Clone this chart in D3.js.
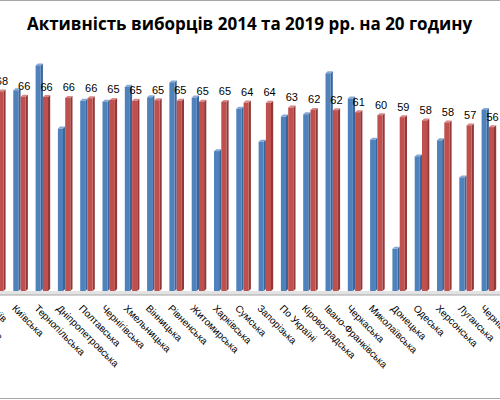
<!DOCTYPE html>
<html>
<head>
<meta charset="utf-8">
<script src="https://cdn.jsdelivr.net/npm/d3@7"></script>
<style>
  body { margin: 0; background: #fff; }
  svg { display: block; font-family: "Liberation Sans", Arial, sans-serif; }
</style>
</head>
<body>
<div id="chart-area"></div>
<script>
// Області (крайня ліва частково за краєм картинки)
var oblasti = ["Львівська", "Київ", "Київська", "Тернопільська", "Дніпропетровська",
    "Полтавська", "Чернігівська", "Хмельницька", "Вінницька", "Рівненська",
    "Житомирська", "Харківська", "Сумська", "Запорізька", "По Україні",
    "Кіровоградська", "Івано-Франківська", "Черкаська", "Миколаївська",
    "Донецька", "Одеська", "Херсонська", "Луганська", "Чернівецька"];

// Явка на 20 годину, %
var yavka2014 = [77, 62, 68.6, 77.1, 55.5, 65.0, 64.7, 69.8, 66.2, 71.3,
    66.1, 47.8, 62.3, 51.0, 59.6, 60.4, 74.4, 65.8, 51.7, 14.4, 46.0, 51.5, 38.8, 61.9];
var yavka2019 = [69, 68.2, 66.4, 66.3, 66.0, 65.9, 65.3, 65.0, 65.2, 65.0,
    64.7, 64.6, 64.4, 64.3, 62.7, 61.9, 61.8, 61.1, 60.1, 59.4, 58.3, 57.6, 56.6, 56.0];

var seriesKeys = ["y2014", "y2019"];

var width = 500, height = 400;
var baseY = 291;

var dani = oblasti.map(function(o, i) {
    return { oblast: o, y2014: yavka2014[i], y2019: yavka2019[i] };
});

var svg = d3.select("#chart-area")
    .append("svg")
        .attr("width", width)
        .attr("height", height);

// рамка
svg.append("line").attr("x1", 0).attr("x2", width).attr("y1", 0.5).attr("y2", 0.5)
    .attr("stroke", "#a6a6a6");
svg.append("line").attr("x1", 0).attr("x2", width).attr("y1", 398.5).attr("y2", 398.5)
    .attr("stroke", "#a6a6a6");

// X Scale
var step = 22.3;
var x0Start = 9.3 - 2 * step;
var x = d3.scaleBand()
    .domain(oblasti)
    .range([x0Start, x0Start + step * oblasti.length])
    .padding(0);

var xInner = d3.scaleBand()
    .domain(seriesKeys)
    .range([4, 18.6])
    .padding(0);

// Y Scale
var y = d3.scaleLinear()
    .domain([0, 80])
    .range([baseY, baseY - 80 * 2.926]);

var kolory = {
    y2014: { front: "#4f81bd", side: "#3b6597", top: "#86a8d6" },
    y2019: { front: "#c0504d", side: "#8f3a38", top: "#d8878a" }
};

var dx = 2.2, dy = -2;

// підлога
svg.append("rect")
    .attr("x", 0).attr("y", baseY)
    .attr("width", width).attr("height", 4)
    .attr("fill", "#e3e3e3");
svg.append("line")
    .attr("x1", 0).attr("x2", width)
    .attr("y1", baseY + 4).attr("y2", baseY + 4)
    .attr("stroke", "#a6a6a6");

var groups = svg.selectAll("g.oblast")
    .data(dani)
    .enter()
    .append("g")
        .attr("class", "oblast")
        .attr("transform", function(d) { return "translate(" + x(d.oblast) + ",0)"; });

var bars = groups.selectAll("g.bar")
    .data(function(d) {
        return seriesKeys.map(function(k) { return { key: k, value: d[k] }; });
    })
    .enter()
    .append("g")
        .attr("class", "bar");

var fw = xInner.bandwidth() - dx;

// права грань
bars.append("path")
    .attr("fill", function(d) { return kolory[d.key].side; })
    .attr("d", function(d) {
        var x1 = xInner(d.key) + fw, yt = y(d.value);
        return "M" + x1 + "," + yt + "L" + (x1 + dx) + "," + (yt + dy) +
            "L" + (x1 + dx) + "," + (baseY + dy) + "L" + x1 + "," + baseY + "Z";
    });

// верхня грань
bars.append("path")
    .attr("fill", function(d) { return kolory[d.key].top; })
    .attr("d", function(d) {
        var x0 = xInner(d.key), yt = y(d.value);
        return "M" + x0 + "," + yt + "L" + (x0 + dx) + "," + (yt + dy) +
            "L" + (x0 + fw + dx) + "," + (yt + dy) + "L" + (x0 + fw) + "," + yt + "Z";
    });

// передня грань
bars.append("rect")
    .attr("x", function(d) { return xInner(d.key); })
    .attr("y", function(d) { return y(d.value); })
    .attr("width", fw)
    .attr("height", function(d) { return baseY - y(d.value); })
    .attr("fill", function(d) { return kolory[d.key].front; });

// підписи значень 2019
groups.append("text")
    .attr("x", xInner("y2019") + xInner.bandwidth() / 2)
    .attr("y", function(d) { return y(d.y2019) - 6.5; })
    .attr("text-anchor", "middle")
    .attr("font-size", "11px")
    .attr("fill", "#000")
    .text(function(d) { return d3.format(".0f")(d.y2019); });

// підписи областей
svg.selectAll("text.cat")
    .data(oblasti)
    .enter()
    .append("text")
        .attr("class", "cat")
        .attr("font-size", "10px")
        .attr("fill", "#000")
        .attr("transform", function(d) {
            var cx = x(d) + x.bandwidth() / 2 - 9;
            return "translate(" + cx + ",309) rotate(45)";
        })
        .text(function(d) { return d; });

// Заголовок
svg.append("text")
    .attr("x", 249.5)
    .attr("y", 30)
    .attr("text-anchor", "middle")
    .attr("font-family", "'Open Sans', sans-serif")
    .attr("font-size", "17px")
    .attr("font-weight", "bold")
    .attr("fill", "#000")
    .text("Активність виборців 2014 та 2019 рр. на 20 годину");
</script>
</body>
</html>
